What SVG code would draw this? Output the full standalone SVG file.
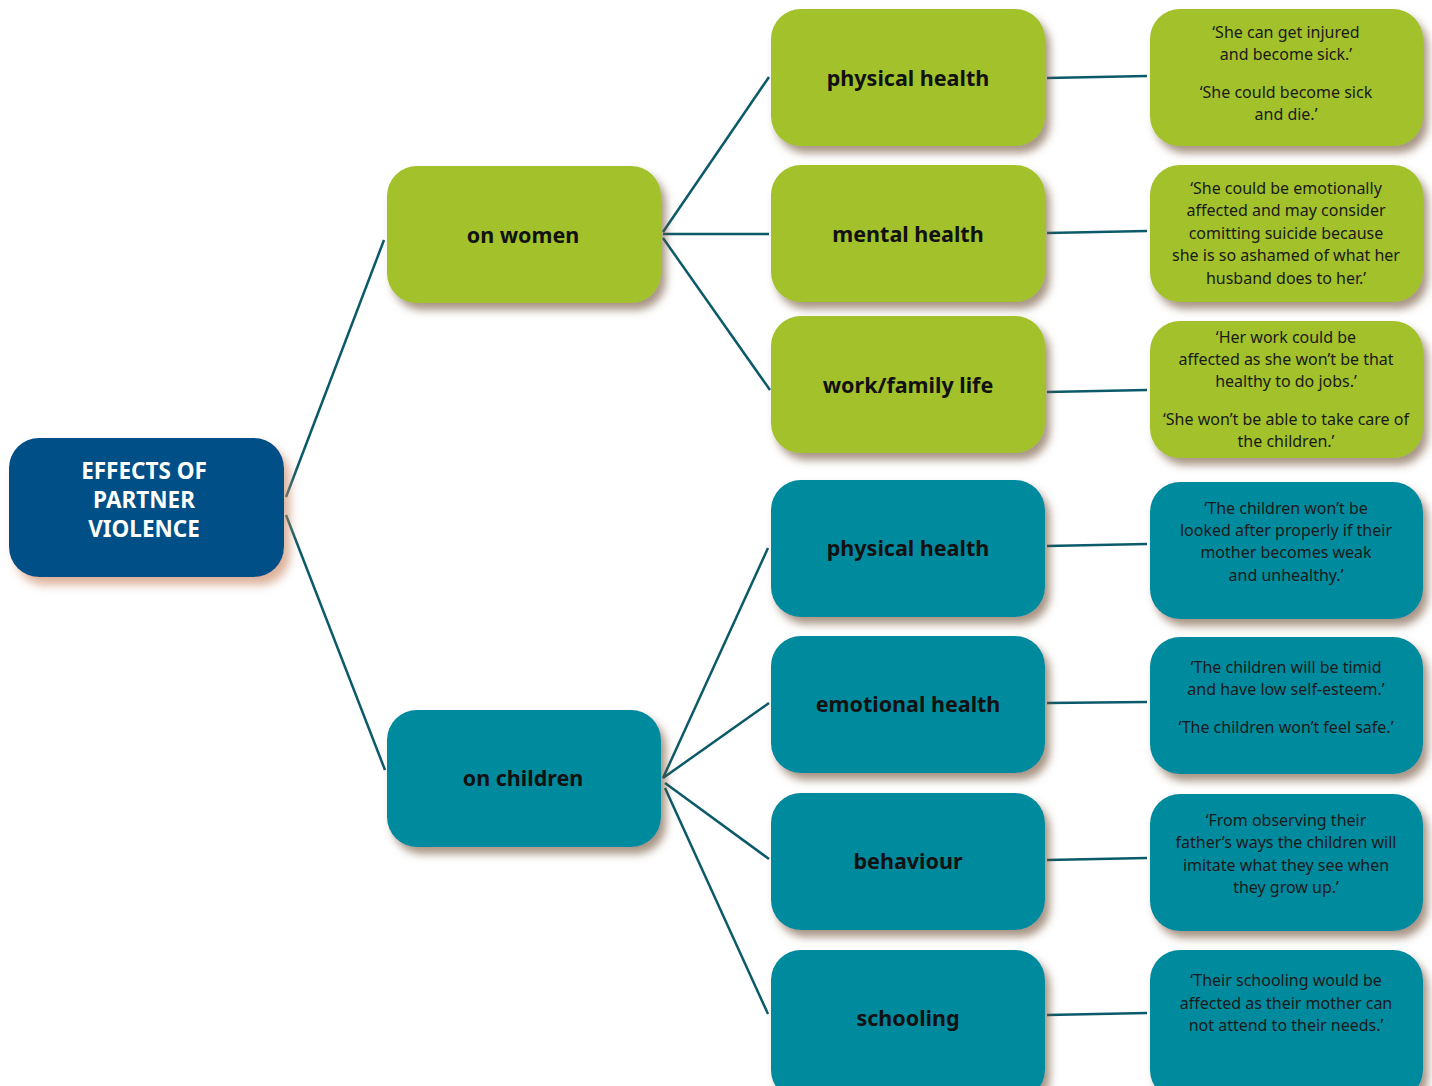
<svg xmlns="http://www.w3.org/2000/svg" width="1432" height="1086" viewBox="0 0 1432 1086">
<defs>
<filter id="sh" x="-10%" y="-10%" width="125%" height="130%"><feDropShadow dx="5" dy="7" stdDeviation="4" flood-color="#6e5030" flood-opacity="0.6"/></filter>
<filter id="shr" x="-10%" y="-10%" width="125%" height="130%"><feDropShadow dx="6" dy="8" stdDeviation="5" flood-color="#c98a66" flood-opacity="0.65"/></filter>
</defs>
<style>
.g{fill:#a2c12b}
.t{fill:#008a9e}
.r{fill:#004f86}
.lbl{font-family:"Noto Sans","Liberation Sans",sans-serif;font-weight:bold;font-size:21.5px;fill:#111;text-anchor:middle}
.root{font-family:"Noto Sans","Liberation Sans",sans-serif;font-weight:bold;font-size:22.5px;fill:#fff;text-anchor:middle}
.q{font-family:"Noto Sans","Liberation Sans",sans-serif;font-size:16px;fill:#1a1a1a;text-anchor:middle}
.c line{stroke:#0b5a6a;stroke-width:2.5}
</style>
<g class="c" id="connectors">
<line x1="286" y1="497" x2="384" y2="240"/>
<line x1="286" y1="515" x2="385" y2="770"/>
<line x1="663" y1="232" x2="769" y2="77"/>
<line x1="663" y1="234" x2="769" y2="234"/>
<line x1="663" y1="238" x2="770" y2="390"/>
<line x1="663" y1="778" x2="768" y2="548"/>
<line x1="663" y1="778" x2="769" y2="703"/>
<line x1="665" y1="783" x2="769" y2="859"/>
<line x1="665" y1="788" x2="768" y2="1014"/>
<line x1="1047" y1="78" x2="1147" y2="76"/>
<line x1="1047" y1="233" x2="1147" y2="231"/>
<line x1="1047" y1="392" x2="1147" y2="390"/>
<line x1="1047" y1="546" x2="1147" y2="544"/>
<line x1="1047" y1="703" x2="1147" y2="702"/>
<line x1="1047" y1="860" x2="1147" y2="858"/>
<line x1="1047" y1="1015" x2="1147" y2="1013"/>
</g>
<g id="root"><rect class="r" x="9" y="438" width="275" height="139" rx="30" filter="url(#shr)"/>
<text class="root" x="144" y="479">EFFECTS OF</text><text class="root" x="144" y="508">PARTNER</text><text class="root" x="144" y="537">VIOLENCE</text></g>
<g id="on-women"><rect class="g" x="387" y="166" width="274" height="137" rx="30" filter="url(#sh)"/><text class="lbl" x="523" y="243">on women</text></g>
<g id="on-children"><rect class="t" x="387" y="710" width="274" height="137" rx="30" filter="url(#sh)"/><text class="lbl" x="523" y="786">on children</text></g>
<g id="w-physical"><rect class="g" x="771" y="9" width="274" height="137" rx="30" filter="url(#sh)"/><text class="lbl" x="908" y="86">physical health</text></g>
<g id="w-mental"><rect class="g" x="771" y="165" width="274" height="137" rx="30" filter="url(#sh)"/><text class="lbl" x="908" y="242">mental health</text></g>
<g id="w-work"><rect class="g" x="771" y="316" width="274" height="137" rx="30" filter="url(#sh)"/><text class="lbl" x="908" y="393">work/family life</text></g>
<g id="c-physical"><rect class="t" x="771" y="480" width="274" height="137" rx="30" filter="url(#sh)"/><text class="lbl" x="908" y="556">physical health</text></g>
<g id="c-emotional"><rect class="t" x="771" y="636" width="274" height="137" rx="30" filter="url(#sh)"/><text class="lbl" x="908" y="712">emotional health</text></g>
<g id="c-behaviour"><rect class="t" x="771" y="793" width="274" height="137" rx="30" filter="url(#sh)"/><text class="lbl" x="908" y="869">behaviour</text></g>
<g id="c-schooling"><rect class="t" x="771" y="950" width="274" height="150" rx="30" filter="url(#sh)"/><text class="lbl" x="908" y="1026">schooling</text></g>
<g id="q1"><rect class="g" x="1150" y="9" width="273" height="137" rx="30" filter="url(#sh)"/>
<text class="q" x="1286" y="38">‘She can get injured</text><text class="q" x="1286" y="60">and become sick.’</text><text class="q" x="1286" y="98">‘She could become sick</text><text class="q" x="1286" y="120">and die.’</text></g>
<g id="q2"><rect class="g" x="1150" y="165" width="273" height="137" rx="30" filter="url(#sh)"/>
<text class="q" x="1286" y="194">‘She could be emotionally</text><text class="q" x="1286" y="216">affected and may consider</text><text class="q" x="1286" y="239">comitting suicide because</text><text class="q" x="1286" y="261">she is so ashamed of what her</text><text class="q" x="1286" y="284">husband does to her.’</text></g>
<g id="q3"><rect class="g" x="1150" y="321" width="273" height="137" rx="30" filter="url(#sh)"/>
<text class="q" x="1286" y="343">‘Her work could be</text><text class="q" x="1286" y="365">affected as she won’t be that</text><text class="q" x="1286" y="387">healthy to do jobs.’</text><text class="q" x="1286" y="425">‘She won’t be able to take care of</text><text class="q" x="1286" y="447">the children.’</text></g>
<g id="q4"><rect class="t" x="1150" y="482" width="273" height="137" rx="30" filter="url(#sh)"/>
<text class="q" x="1286" y="514">‘The children won’t be</text><text class="q" x="1286" y="536">looked after properly if their</text><text class="q" x="1286" y="558">mother becomes weak</text><text class="q" x="1286" y="581">and unhealthy.’</text></g>
<g id="q5"><rect class="t" x="1150" y="637" width="273" height="137" rx="30" filter="url(#sh)"/>
<text class="q" x="1286" y="673">‘The children will be timid</text><text class="q" x="1286" y="695">and have low self-esteem.’</text><text class="q" x="1286" y="733">‘The children won’t feel safe.’</text></g>
<g id="q6"><rect class="t" x="1150" y="794" width="273" height="137" rx="30" filter="url(#sh)"/>
<text class="q" x="1286" y="826">‘From observing their</text><text class="q" x="1286" y="848">father’s ways the children will</text><text class="q" x="1286" y="871">imitate what they see when</text><text class="q" x="1286" y="893">they grow up.’</text></g>
<g id="q7"><rect class="t" x="1150" y="950" width="273" height="150" rx="30" filter="url(#sh)"/>
<text class="q" x="1286" y="986">‘Their schooling would be</text><text class="q" x="1286" y="1009">affected as their mother can</text><text class="q" x="1286" y="1031">not attend to their needs.’</text></g>
</svg>
